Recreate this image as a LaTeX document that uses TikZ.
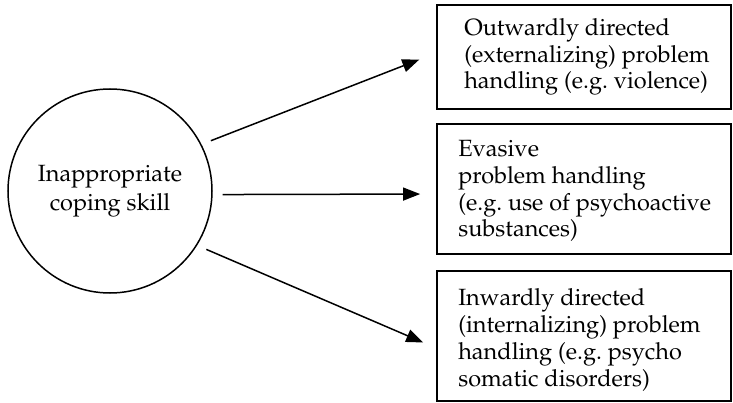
\documentclass[tikz,border=0pt]{standalone}
\usepackage[T1]{fontenc}
\usepackage{mathpazo}
\usetikzlibrary{arrows.meta}
\frenchspacing
\tikzset{
  boxnode/.style={draw, line width=1.8pt, rectangle, inner sep=0pt, minimum width=294pt},
  boxtext/.style={font=\fontsize{23.5}{26.8}\selectfont, anchor=west, inner sep=0pt, align=left},
  circnode/.style={font=\fontsize{23.5}{29.5}\selectfont, draw, line width=1.5pt, circle,
    minimum size=204pt, inner sep=0pt, align=center},
  arr/.style={line width=1.5pt, -{Triangle[length=17pt,width=13pt]}, shorten <=10pt, shorten >=16pt}
}
\begin{document}
\begin{tikzpicture}[x=1pt,y=-1pt]
\useasboundingbox (0,0) rectangle (733,403);
\node[circnode] (c) at (110,191) {Inappropriate\\coping skill};
\node[boxnode, minimum height=104pt] (b1) at (584,57) {};
\node[boxnode, minimum height=130pt] (b2) at (584,189) {};
\node[boxnode, minimum height=130pt] (b3) at (584,336) {};
\node[boxtext] (t1) at ([xshift=28pt]b1.west) {Outwardly directed\\(externalizing) problem\\handling (e.g. violence)};
\node[boxtext] (t2) at ([xshift=22pt,yshift=-2pt]b2.west) {Evasive\\problem handling\\(e.g. use of psychoactive\\substances)};
\node[boxtext] (t3) at ([xshift=22pt,yshift=-4pt]b3.west) {Inwardly directed\\(internalizing) problem\\handling (e.g. psycho\\somatic disorders)};
\draw[arr, shorten >=18pt] (c.27) -- ([yshift=4pt]b1.west);
\draw[arr] (c.-2) -- ([yshift=-5pt]b2.west);
\draw[arr, shorten >=14pt] (c.-32) -- ([yshift=-12pt]b3.west);
\end{tikzpicture}
\end{document}
